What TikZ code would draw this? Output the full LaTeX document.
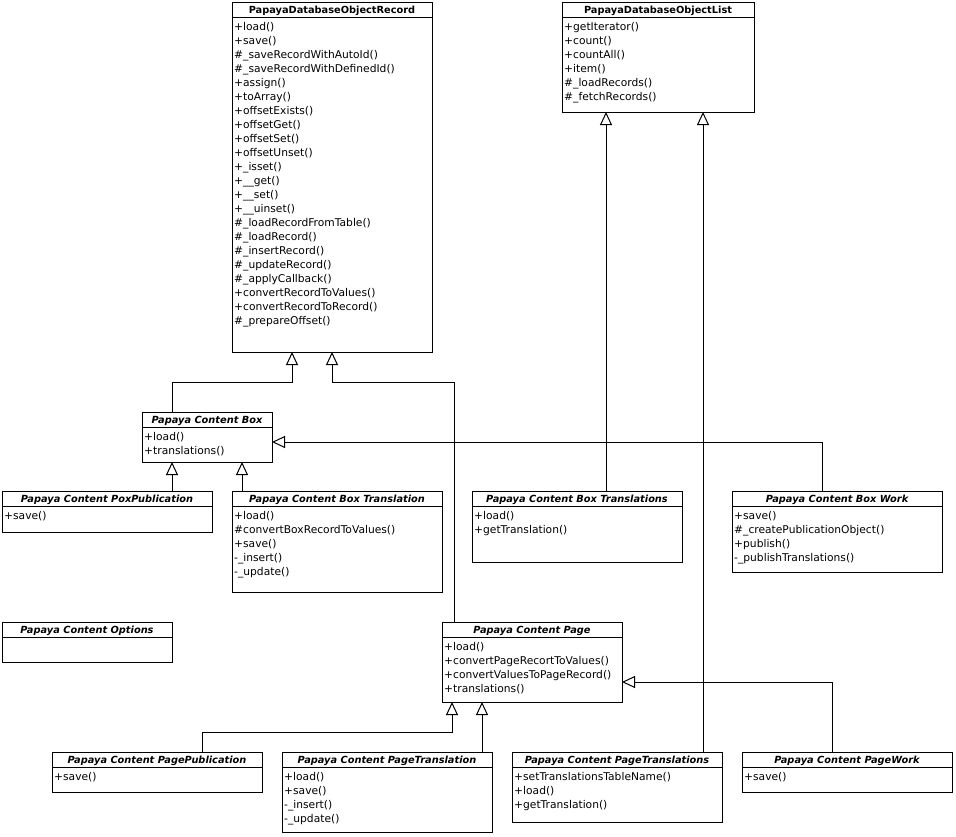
\documentclass[tikz,border=0pt]{standalone}
\usepackage{fontspec}
\setmainfont{DejaVu Sans}
\usetikzlibrary{arrows.meta,calc}
\tikzset{
  classbox/.style={draw, line width=1pt, inner sep=0pt, outer sep=0pt},
  titletext/.style={font=\fontsize{9.8}{11}\selectfont\bfseries, inner sep=0pt, anchor=base},
  membertext/.style={font=\fontsize{10.7}{14}\selectfont, inner sep=0pt, anchor=base west},
  inh/.style={line width=1pt, -{Triangle[open, length=13pt, width=12pt, line width=1pt]}}
}
\newcommand\umlclass[7]{%
  \node[classbox, minimum width=#4pt, minimum height=#5pt, anchor=north west] (#1) at (#2,#3) {};
  \draw[line width=1pt] ($(#1.north west)+(0,15)$) -- ($(#1.north east)+(0,15)$);
  \node[titletext] (#1-title) at ($(#1.north)+(0,11.5)$) {#6};
  \foreach \m [count=\i] in {#7} {
    \node[membertext] (#1-m\i) at ($(#1.north west)+(2,{28+14*(\i-1)})$) {\m};
  }
}
\begin{document}
\begin{tikzpicture}[x=1pt,y=-1pt]
\useasboundingbox (0,0) rectangle (956,836);

\umlclass{rec}{232}{2}{200}{350}{PapayaDatabaseObjectRecord}{+load(), +save(), \#\_saveRecordWithAutoId(), \#\_saveRecordWithDefinedId(), +assign(), +toArray(), +offsetExists(), +offsetGet(), +offsetSet(), +offsetUnset(), +\_isset(), +\_\_get(), +\_\_set(), +\_\_uinset(), \#\_loadRecordFromTable(), \#\_loadRecord(), \#\_insertRecord(), \#\_updateRecord(), \#\_applyCallback(), +convertRecordToValues(), +convertRecordToRecord(), \#\_prepareOffset()}

\umlclass{list}{562}{2}{192}{110}{PapayaDatabaseObjectList}{+getIterator(), +count(), +countAll(), +item(), \#\_loadRecords(), \#\_fetchRecords()}

\umlclass{box}{142}{412}{130}{50}{\itshape Papaya Content Box}{+load(), +translations()}

\umlclass{pox}{2}{491}{210}{41}{\itshape Papaya Content PoxPublication}{+save()}

\umlclass{btr}{232}{491}{210}{101}{\itshape Papaya Content Box Translation}{+load(), \#convertBoxRecordToValues(), +save(), -\_insert(), -\_update()}

\umlclass{btrs}{472}{491}{210}{71}{\itshape Papaya Content Box Translations}{+load(), +getTranslation()}

\umlclass{bwork}{732}{491}{210}{81}{\itshape Papaya Content Box Work}{+save(), \#\_createPublicationObject(), +publish(), -\_publishTranslations()}

\umlclass{opt}{2}{622}{170}{40}{\itshape Papaya Content Options}{}

\umlclass{page}{442}{622}{180}{80}{\itshape Papaya Content Page}{+load(), +convertPageRecortToValues(), +convertValuesToPageRecord(), +translations()}

\umlclass{ppub}{52}{752}{210}{40}{\itshape Papaya Content PagePublication}{+save()}

\umlclass{ptr}{282}{752}{210}{80}{\itshape Papaya Content PageTranslation}{+load(), +save(), -\_insert(), -\_update()}

\umlclass{ptrs}{512}{752}{210}{70}{\itshape Papaya Content PageTranslations}{+setTranslationsTableName(), +load(), +getTranslation()}

\umlclass{pwork}{742}{752}{210}{40}{\itshape Papaya Content PageWork}{+save()}

% inheritance connectors
\draw[inh] ($(box.north west)+(30,0)$) |- ($(rec.south west)+(60,30)$) -- ($(rec.south west)+(60,0)$);
\draw[inh] ($(page.north west)+(12,0)$) |- ($(rec.south west)+(100,30)$) -- ($(rec.south west)+(100,0)$);
\draw[inh] ($(btrs.north west)+(134,0)$) coordinate (c1) -- (c1 |- list.south);
\draw[inh] ($(ptrs.north west)+(191,0)$) coordinate (c2) -- (c2 |- list.south);
\draw[inh] ($(pox.north west)+(170,0)$) coordinate (c3) -- (c3 |- box.south);
\draw[inh] ($(btr.north west)+(10,0)$) coordinate (c4) -- (c4 |- box.south);
\draw[inh] ($(bwork.north west)+(90,0)$) |- ($(box.north east)+(0,30)$);
\draw[inh] ($(ppub.north west)+(150,0)$) coordinate (c5) -- ($(c5)+(0,-20)$) -| ($(page.south west)+(10,0)$);
\draw[inh] ($(ptr.north west)+(200,0)$) coordinate (c6) -- (c6 |- page.south);
\draw[inh] ($(pwork.north west)+(90,0)$) |- ($(page.south east)+(0,-20)$);
\end{tikzpicture}
\end{document}
